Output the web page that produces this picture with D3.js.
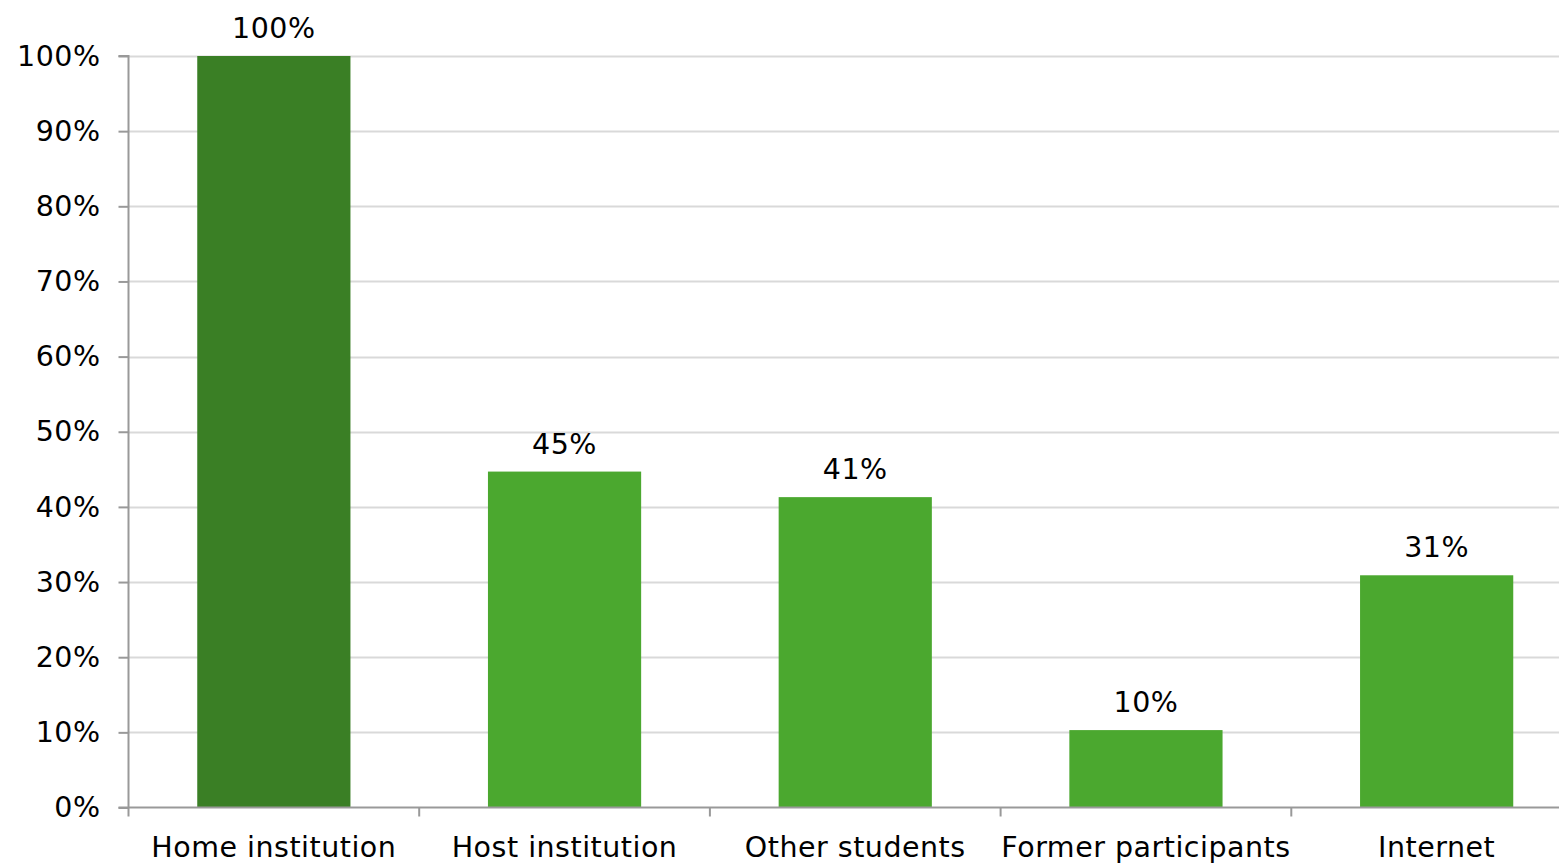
<!DOCTYPE html>
<html><head><meta charset="utf-8">
<script src="https://cdn.jsdelivr.net/npm/d3@7"></script>
<style>body{margin:0;background:#fff}svg{display:block}text{font-family:"DejaVu Sans",Verdana,sans-serif;fill:#000;letter-spacing:0.5px}</style>
</head><body><svg id="c" width="1559" height="863"></svg>
<script>
const categories = ["Home institution","Host institution","Other students","Former participants","Internet"];
const values = [100, 44.7, 41.3, 10.3, 30.9];
const labels = ["100%","45%","41%","10%","31%"];
const colors = ["#3a7f25","#4ba82f","#4ba82f","#4ba82f","#4ba82f"];
const yTicks = [0,10,20,30,40,50,60,70,80,90,100];

const svg = d3.select("#c");
const mLeft = 128.5, mTop = 56, mBottom = 807.5, step = 290.7;
const x = d3.scaleBand().domain(categories).range([mLeft, mLeft + step*categories.length]).padding(0);
const y = d3.scaleLinear().domain([0,100]).range([mBottom, mTop]);
const barW = x.bandwidth()*0.527;
const fs = 28.5;

// gridlines
svg.append("g").selectAll("line").data(yTicks.filter(d=>d>0)).join("line")
  .attr("x1", mLeft).attr("x2", 1559).attr("y1", d=>Math.round(y(d))+0.5).attr("y2", d=>Math.round(y(d))+0.5)
  .attr("stroke", "#d9d9d9").attr("stroke-width", 2);

// bars
svg.append("g").selectAll("rect").data(categories).join("rect")
  .attr("x", d=>x(d)+x.bandwidth()/2-barW/2).attr("width", barW)
  .attr("y", (d,i)=>y(values[i])).attr("height", (d,i)=>mBottom - y(values[i]))
  .attr("fill", (d,i)=>colors[i]);

// value labels
svg.append("g").selectAll("text").data(categories).join("text")
  .attr("x", d=>x(d)+x.bandwidth()/2).attr("y", (d,i)=>y(values[i])-18)
  .attr("text-anchor","middle").attr("font-size", fs).text((d,i)=>labels[i]);

// y axis
const yAxis = d3.axisLeft(y).tickValues(yTicks).tickFormat(d=>d+"%").tickSize(10).tickPadding(18);
const gy = svg.append("g").attr("transform", `translate(${mLeft},0)`).call(yAxis);
gy.select(".domain").attr("stroke","#999").attr("stroke-width",2).attr("d", `M-10,${mTop}H0V${mBottom}`);
gy.selectAll(".tick line").attr("stroke","#999").attr("stroke-width",2);
gy.selectAll(".tick text").attr("font-size", fs).attr("font-family","DejaVu Sans").attr("fill","#000");

// x axis baseline
svg.append("line").attr("x1", mLeft-10).attr("x2", 1559).attr("y1", mBottom).attr("y2", mBottom)
  .attr("stroke","#999").attr("stroke-width",2);
// x ticks at band boundaries
svg.append("g").selectAll("line").data(categories).join("line")
  .attr("x1", d=>x(d)).attr("x2", d=>x(d)).attr("y1", mBottom).attr("y2", mBottom+9)
  .attr("stroke","#999").attr("stroke-width",2);
// x labels
svg.append("g").selectAll("text").data(categories).join("text")
  .attr("x", d=>x(d)+x.bandwidth()/2).attr("y", 857)
  .attr("text-anchor","middle").attr("font-size", fs).text(d=>d);
</script></body></html>
